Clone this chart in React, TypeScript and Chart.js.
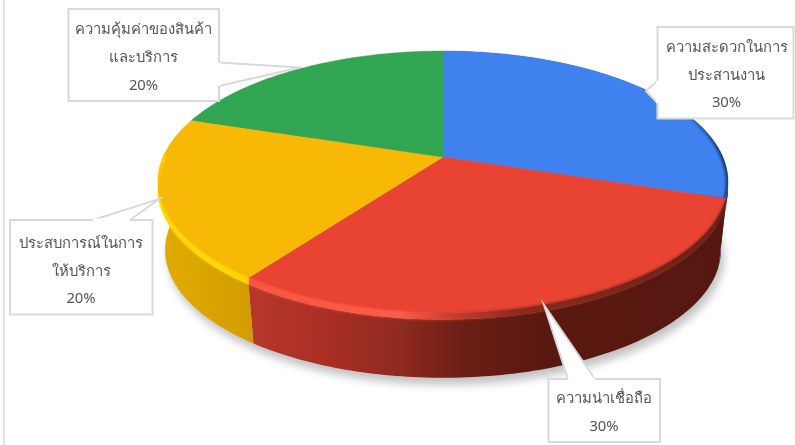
import { useEffect, useRef } from "react";
import { Chart, registerables } from "chart.js";

Chart.register(...registerables);

const categories = [
  "ความสะดวกในการประสานงาน",
  "ความน่าเชื่อถือ",
  "ประสบการณ์ในการให้บริการ",
  "ความคุ้มค่าของสินค้าและบริการ",
];
const shares = [30, 30, 20, 20];
const labelLines = [
  ["ความสะดวกในการ", "ประสานงาน"],
  ["ความน่าเชื่อถือ"],
  ["ประสบการณ์ในการ", "ให้บริการ"],
  ["ความคุ้มค่าของสินค้า", "และบริการ"],
];
const topColors = ["#3f82ef", "#e94333", "#f7b905", "#32a552"];

type Stop = [number, string];

// Side wall shading, as [x position, colour] pairs
const wallStops: Stop[][] = [
  [[640, "#2a52a0"], [730, "#12285a"]],
  [[250, "#b7372b"], [320, "#ab2f25"], [400, "#8f2a20"], [465, "#6b1e15"], [540, "#5a1910"], [730, "#551710"]],
  [[160, "#e2ad00"], [255, "#d19c00"]],
  [[160, "#1d6a35"], [445, "#1d6a35"]],
];

// Bevel band between the top face and the wall, per slice
const bevelStops: Stop[][] = [
  [[640, "#2f5cb0"], [730, "#1c3a78"]],
  [[250, "#f9553f"], [400, "#fb5b49"], [450, "#c93f30"], [520, "#8a2a1e"], [730, "#6e2015"]],
  [[160, "#ffd70a"], [255, "#ffd500"]],
  [[160, "#32a552"], [445, "#32a552"]],
];
const bevelBlur = [1, 1.8, 0.9, 0];

// The band stops where the wall turns out of sight on the left, in degrees
const bevelLimit = 182;

// Dark edge along the far right of the top face, in degrees
const blueEdge = { from: -24, to: 18, width: 5, stops: [[680, "rgba(30,55,110,0)"], [722, "rgba(30,55,110,0.95)"]] as Stop[] };

type Box = { x: number; y: number; w: number; h: number; cx: number; lines: number[]; pointer: number[][] };

// Callout frames and their leader wedges, in canvas pixels
const callouts: Box[] = [
  { x: 657.5, y: 27, w: 136, h: 91.5, cx: 726.5, lines: [48, 76, 103], pointer: [[657.5, 81], [646, 91], [657.5, 103]] },
  { x: 548.5, y: 379, w: 111.5, h: 63, cx: 604, lines: [399, 427], pointer: [[568, 379], [544, 305], [595, 379]] },
  { x: 10, y: 220, w: 142.5, h: 94.5, cx: 81, lines: [244, 272, 299], pointer: [[93, 220], [159, 199], [130, 220]] },
  { x: 68.5, y: 9, w: 150.5, h: 92, cx: 143.5, lines: [30, 58, 86], pointer: [[219, 62.5], [300, 67.5], [219, 86]] },
];

// Camera model of the pie: unit-disc coordinates projected with foreshortening
const view = { cx: 443, cy: 157, ax: 279.8, ay: 126.2, k: 0.1908 };
const floor = { cy: 225.7, scale: 0.975 };
const shoulderDrop = 6.5;

type Level = "top" | "shoulder" | "floor";

const project = (t: number, level: Level = "top") => {
  const w = 1 - view.k * Math.sin(t);
  const px = (view.ax * Math.cos(t)) / w;
  const py = (view.ay * Math.sin(t)) / w;
  if (level === "floor") return { x: view.cx + px * floor.scale, y: floor.cy + py * floor.scale };
  if (level === "shoulder") return { x: view.cx + px, y: view.cy + py + shoulderDrop };
  return { x: view.cx + px, y: view.cy + py };
};

const arcPoints = (a0: number, a1: number, level: Level = "top") => {
  const n = Math.max(2, Math.ceil((Math.abs(a1 - a0) * 180) / Math.PI));
  return Array.from({ length: n + 1 }, (_, i) => project(a0 + ((a1 - a0) * i) / n, level));
};

const gradient = (ctx: CanvasRenderingContext2D, stops: Stop[]) => {
  const x0 = stops[0][0];
  const x1 = stops[stops.length - 1][0];
  const g = ctx.createLinearGradient(x0, 0, x1, 0);
  stops.forEach(([x, c]) => g.addColorStop((x - x0) / (x1 - x0), c));
  return g;
};

const trace = (ctx: CanvasRenderingContext2D, pts: { x: number; y: number }[], move = true) => {
  pts.forEach((p, i) => (i === 0 && move ? ctx.moveTo(p.x, p.y) : ctx.lineTo(p.x, p.y)));
};

const fillBevel = (ctx: CanvasRenderingContext2D, arc: any, i: number) => {
  const end = Math.min(arc.endAngle, (bevelLimit * Math.PI) / 180);
  if (end <= arc.startAngle) return;
  ctx.fillStyle = gradient(ctx, bevelStops[i]);
  ctx.beginPath();
  trace(ctx, arcPoints(arc.startAngle, end));
  trace(ctx, arcPoints(end, arc.startAngle, "shoulder"), false);
  ctx.closePath();
  ctx.fill();
};

const piePlugin = {
  id: "perspectivePie",
  beforeDraw(chart: Chart) {
    const { ctx, height } = chart;
    // Frame line on the left of the chart area
    ctx.save();
    ctx.fillStyle = "#d9d9d9";
    ctx.fillRect(3, 0, 1.5, height);
    ctx.restore();
  },
  beforeDatasetDraw(chart: Chart) {
    const { ctx } = chart;
    const arcs = chart.getDatasetMeta(0).data as any[];

    // Soft ground shadow
    ctx.save();
    ctx.filter = "blur(4px)";
    ctx.fillStyle = "rgba(0,0,0,0.24)";
    ctx.beginPath();
    trace(ctx, arcPoints(0, Math.PI * 2, "floor").map((p) => ({ x: p.x + 3, y: p.y + 7 })));
    ctx.closePath();
    ctx.fill();
    ctx.restore();

    // Side walls
    arcs.forEach((arc, i) => {
      ctx.save();
      ctx.fillStyle = gradient(ctx, wallStops[i]);
      ctx.beginPath();
      trace(ctx, arcPoints(arc.startAngle, arc.endAngle, "shoulder"));
      trace(ctx, arcPoints(arc.endAngle, arc.startAngle, "floor"), false);
      ctx.closePath();
      ctx.fill();
      ctx.restore();
    });

    // Solid bevel band under the top face
    arcs.forEach((arc, i) => {
      ctx.save();
      fillBevel(ctx, arc, i);
      ctx.restore();
    });

    // Top faces
    arcs.forEach((arc, i) => {
      ctx.save();
      ctx.fillStyle = topColors[i];
      ctx.strokeStyle = topColors[i];
      ctx.lineWidth = 0.5;
      ctx.beginPath();
      ctx.moveTo(view.cx, view.cy);
      trace(ctx, arcPoints(arc.startAngle, arc.endAngle), false);
      ctx.closePath();
      ctx.fill();
      ctx.stroke();
      ctx.restore();
    });

    // Softened bevel over the seams; the front slices only, where the band is seen
    arcs.slice(1, 3).forEach((arc, j) => {
      const i = j + 1;
      ctx.save();
      ctx.filter = `blur(${bevelBlur[i]}px)`;
      fillBevel(ctx, arc, i);
      ctx.restore();
    });

    // Dark edge on the far side, kept inside the top face
    const deg = Math.PI / 180;
    ctx.save();
    ctx.beginPath();
    trace(ctx, arcPoints(blueEdge.from * deg, blueEdge.to * deg));
    ctx.lineTo(view.cx, view.cy);
    ctx.closePath();
    ctx.clip();
    ctx.filter = "blur(1px)";
    ctx.strokeStyle = gradient(ctx, blueEdge.stops);
    ctx.lineWidth = blueEdge.width;
    ctx.beginPath();
    trace(ctx, arcPoints(blueEdge.from * deg, blueEdge.to * deg));
    ctx.stroke();
    ctx.restore();

    return false;
  },
  afterDatasetsDraw(chart: Chart) {
    const { ctx } = chart;
    callouts.forEach((box, i) => {
      ctx.save();
      ctx.fillStyle = "#ffffff";
      ctx.strokeStyle = "#d9d9d9";
      ctx.lineWidth = 2;
      ctx.lineJoin = "miter";
      ctx.beginPath();
      ctx.rect(box.x, box.y, box.w, box.h);
      ctx.fill();
      ctx.stroke();

      // Wedge: filled over the frame so the base of the wedge stays open
      ctx.beginPath();
      ctx.moveTo(box.pointer[0][0], box.pointer[0][1]);
      ctx.lineTo(box.pointer[1][0], box.pointer[1][1]);
      ctx.lineTo(box.pointer[2][0], box.pointer[2][1]);
      ctx.closePath();
      ctx.fill();
      ctx.beginPath();
      ctx.moveTo(box.pointer[0][0], box.pointer[0][1]);
      ctx.lineTo(box.pointer[1][0], box.pointer[1][1]);
      ctx.lineTo(box.pointer[2][0], box.pointer[2][1]);
      ctx.stroke();

      ctx.strokeStyle = "#ffffff";
      ctx.lineWidth = 3;
      ctx.beginPath();
      ctx.moveTo(box.pointer[0][0], box.pointer[0][1]);
      ctx.lineTo(box.pointer[2][0], box.pointer[2][1]);
      ctx.stroke();

      ctx.fillStyle = "#555555";
      ctx.font = '14.8px "Noto Sans", sans-serif';
      ctx.textAlign = "center";
      ctx.textBaseline = "middle";
      const text = [...labelLines[i], `${shares[i]}%`];
      text.forEach((line, j) => ctx.fillText(line, box.cx, box.lines[j]));
      ctx.restore();
    });
  },
};

export default function App() {
  const canvasRef = useRef<HTMLCanvasElement>(null);

  useEffect(() => {
    document.body.style.margin = "0";
    const chart = new Chart(canvasRef.current!, {
      type: "pie",
      data: {
        labels: categories,
        datasets: [{ data: shares, backgroundColor: topColors, borderWidth: 0 }],
      },
      options: {
        responsive: false,
        animation: false,
        plugins: { legend: { display: false }, tooltip: { enabled: false } },
      },
      plugins: [piePlugin],
    });
    return () => chart.destroy();
  }, []);

  return <canvas ref={canvasRef} width={795} height={445} style={{ display: "block" }} />;
}
